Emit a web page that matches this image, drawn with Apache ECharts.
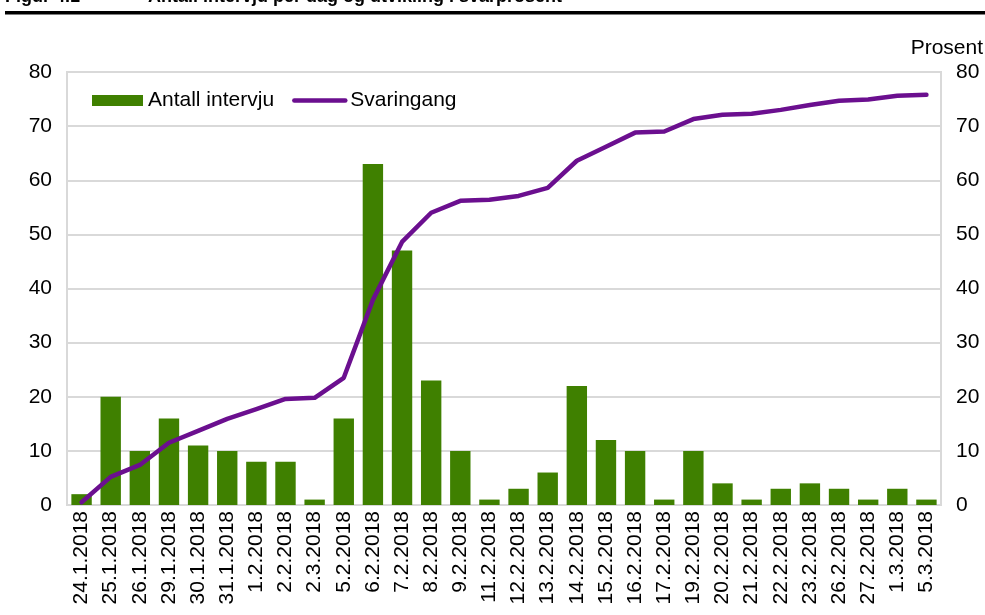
<!DOCTYPE html>
<html>
<head>
<meta charset="utf-8">
<script src="https://cdn.jsdelivr.net/npm/echarts@6/dist/echarts.min.js"></script>
<style>
html,body{margin:0;padding:0;background:#fff;}
#chart{width:985px;height:615px;}
</style>
</head>
<body>
<div id="chart"></div>
<script>
const categories = ['24.1.2018','25.1.2018','26.1.2018','29.1.2018','30.1.2018','31.1.2018','1.2.2018','2.2.2018','2.3.2018','5.2.2018','6.2.2018','7.2.2018','8.2.2018','9.2.2018','11.2.2018','12.2.2018','13.2.2018','14.2.2018','15.2.2018','16.2.2018','17.2.2018','19.2.2018','20.2.2018','21.2.2018','22.2.2018','23.2.2018','26.2.2018','27.2.2018','1.3.2018','5.3.2018'];
const antallIntervju = [2,20,10,16,11,10,8,8,1,16,63,47,23,10,1,3,6,22,12,10,1,10,4,1,3,4,3,1,3,1];
const svaringang = [0.5,5.2,7.4,11.5,13.7,15.9,17.7,19.6,19.8,23.5,37.9,48.6,54,56.2,56.4,57.1,58.6,63.6,66.2,68.8,69,71.3,72.1,72.3,73,73.9,74.7,74.9,75.6,75.8];
const yTicks = {min: 0, max: 80, interval: 10};

const FONT = '"Liberation Sans", Arial, sans-serif';
const LINE_COLOR = '#6B0F8F';
const chart = echarts.init(document.getElementById('chart'), null, {renderer: 'canvas'});
chart.setOption({
  animation: false,
  backgroundColor: '#ffffff',
  textStyle: {fontFamily: FONT},
  graphic: [
    {type: 'text', left: 5, top: -12, style: {text: 'Figur 4.1', font: 'bold 18px ' + FONT, fill: '#000'}},
    {type: 'text', left: 148, top: -12, style: {text: 'Antall intervju per dag og utvikling i svarprosent', font: 'bold 18px ' + FONT, fill: '#000'}},
    {type: 'rect', shape: {x: 5, y: 11, width: 980, height: 3.5}, style: {fill: '#000'}},
    {type: 'text', right: 2, top: 38, style: {text: 'Prosent', font: '21px ' + FONT, fill: '#000'}}
  ],
  legend: {
    left: 87, top: 85,
    itemWidth: 51, itemHeight: 11, itemGap: 18,
    textStyle: {fontSize: 21, color: '#000', fontFamily: FONT},
    data: [
      {name: 'Antall intervju', icon: 'rect'},
      {name: 'Svaringang', itemStyle: {opacity: 0}, lineStyle: {width: 4.5, color: LINE_COLOR, cap: 'round'}}
    ]
  },
  grid: {left: 67, right: 44, top: 72, bottom: 110, show: true, borderColor: '#d9d9d9', borderWidth: 2},
  xAxis: {
    type: 'category',
    data: categories,
    axisTick: {show: false},
    axisLine: {lineStyle: {color: '#d9d9d9', width: 2}},
    axisLabel: {rotate: 90, fontSize: 21, color: '#000', margin: 6, interval: 0, fontFamily: FONT}
  },
  yAxis: [
    {
      type: 'value', min: yTicks.min, max: yTicks.max, interval: yTicks.interval,
      axisLine: {show: false}, axisTick: {show: false},
      axisLabel: {fontSize: 21, color: '#000', margin: 15, fontFamily: FONT},
      splitLine: {lineStyle: {color: '#d9d9d9', width: 2}}
    },
    {
      type: 'value', min: yTicks.min, max: yTicks.max, interval: yTicks.interval,
      position: 'right',
      axisLine: {show: false}, axisTick: {show: false},
      axisLabel: {fontSize: 21, color: '#000', margin: 15, fontFamily: FONT},
      splitLine: {show: false}
    }
  ],
  series: [
    {
      name: 'Antall intervju', type: 'bar', data: antallIntervju,
      barWidth: '70%', itemStyle: {color: '#3F8000'}
    },
    {
      name: 'Svaringang', type: 'line', yAxisIndex: 1, data: svaringang,
      symbol: 'none', lineStyle: {color: LINE_COLOR, width: 4.5, cap: 'round', join: 'round'},
      itemStyle: {color: LINE_COLOR}
    }
  ]
});
</script>
</body>
</html>
